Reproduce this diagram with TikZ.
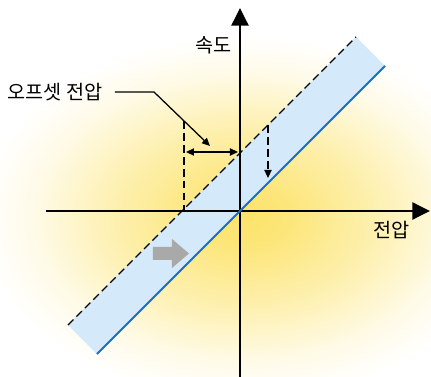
\documentclass[tikz,border=0pt]{standalone}
\usepackage{fontspec}
\setmainfont{Noto Sans CJK KR}
\usetikzlibrary{arrows.meta}

\definecolor{glow}{HTML}{FCE36A}
\definecolor{bandblue}{HTML}{D4EAFA}
\definecolor{lineblue}{HTML}{1B6EC2}
\definecolor{pushgray}{HTML}{A9A9A9}

% yellow glow behind the graph
\pgfdeclareradialshading{glowshade}{\pgfpoint{0bp}{0bp}}{%
  color(0bp)=(glow); color(4bp)=(glow!90!white); color(12bp)=(glow!55!white);
  color(20bp)=(glow!15!white); color(25bp)=(white); color(50bp)=(white)}

\tikzset{
  axis/.style={line width=2.1pt, -{Triangle[length=4.4mm,width=4.2mm]}},
  offline/.style={line width=1pt, dash pattern=on 5.5pt off 3pt},
  guide/.style={line width=0.9pt}
}

\begin{document}
\begin{tikzpicture}[x=0.25mm, y=0.25mm, >={Triangle[length=2mm,width=1.8mm]},
    font=\fontsize{14}{16}\selectfont]
    \useasboundingbox (-240,-166) rectangle (191,211);

    % Coordinates
    \coordinate (O) at (0,0);
    \coordinate (Xl) at (-194,0);
    \coordinate (Xr) at (190,0);
    \coordinate (Yb) at (0,-166);
    \coordinate (Yt) at (0,203);
    \coordinate (Sa) at (-143,-143);   % solid line, low end
    \coordinate (Sb) at (145,145);     % solid line, high end
    \coordinate (Da) at (-172,-114);   % dashed line, low end
    \coordinate (Db) at (116,174);     % dashed line, high end
    \coordinate (Va) at (-56,90);      % vertical guide
    \coordinate (Vb) at (-56,0);
    \coordinate (Ol) at (-54,59);      % offset arrow
    \coordinate (Or) at (-2,59);
    \coordinate (Knee) at (-86,119);
    \coordinate (Tip) at (-30,65);
    \coordinate (Sh) at (28,86);       % shift arrow
    \coordinate (St) at (28,33);

    % --- background glow ---
    \begin{scope}
      \clip (-240,-166) rectangle (191,211);
      \shade[shading=glowshade] (4,-6) ellipse [x radius=265, y radius=182];
    \end{scope}

    % --- band ---
    \fill[bandblue] (Da) -- (Db) -- (Sb) -- (Sa) -- cycle;

    % --- axes ---
    \draw[axis] (Xl) -- (Xr);
    \draw[axis] (Yb) -- (Yt);

    % --- lines ---
    \draw[lineblue, line width=1.5pt] (Sa) -- (Sb);
    \draw[offline] (Da) -- (Db);
    \draw[offline] (Va) -- (Vb);
    \draw[offline, ->] (Sh) -- (St);
    \draw[guide, <->] (Ol) -- (Or);

    % gray push arrow
    \fill[pushgray] (-87,-36) -- (-68,-36) -- (-68,-28) -- (-51,-42.5)
        -- (-68,-57) -- (-68,-49) -- (-87,-49) -- cycle;

    % --- labels ---
    \node[anchor=east, inner sep=0pt] (speedlbl) at (-8,166) {속도};
    \node[inner sep=0pt] (voltlbl) at (152,-19) {전압};
    \node[anchor=east, inner ysep=0pt, inner xsep=3mm] (offlbl) at (-125,119) {오프셋 전압};
    \draw[guide, ->] (offlbl.east) -- (Knee) -- (Tip);

\end{tikzpicture}
\end{document}
